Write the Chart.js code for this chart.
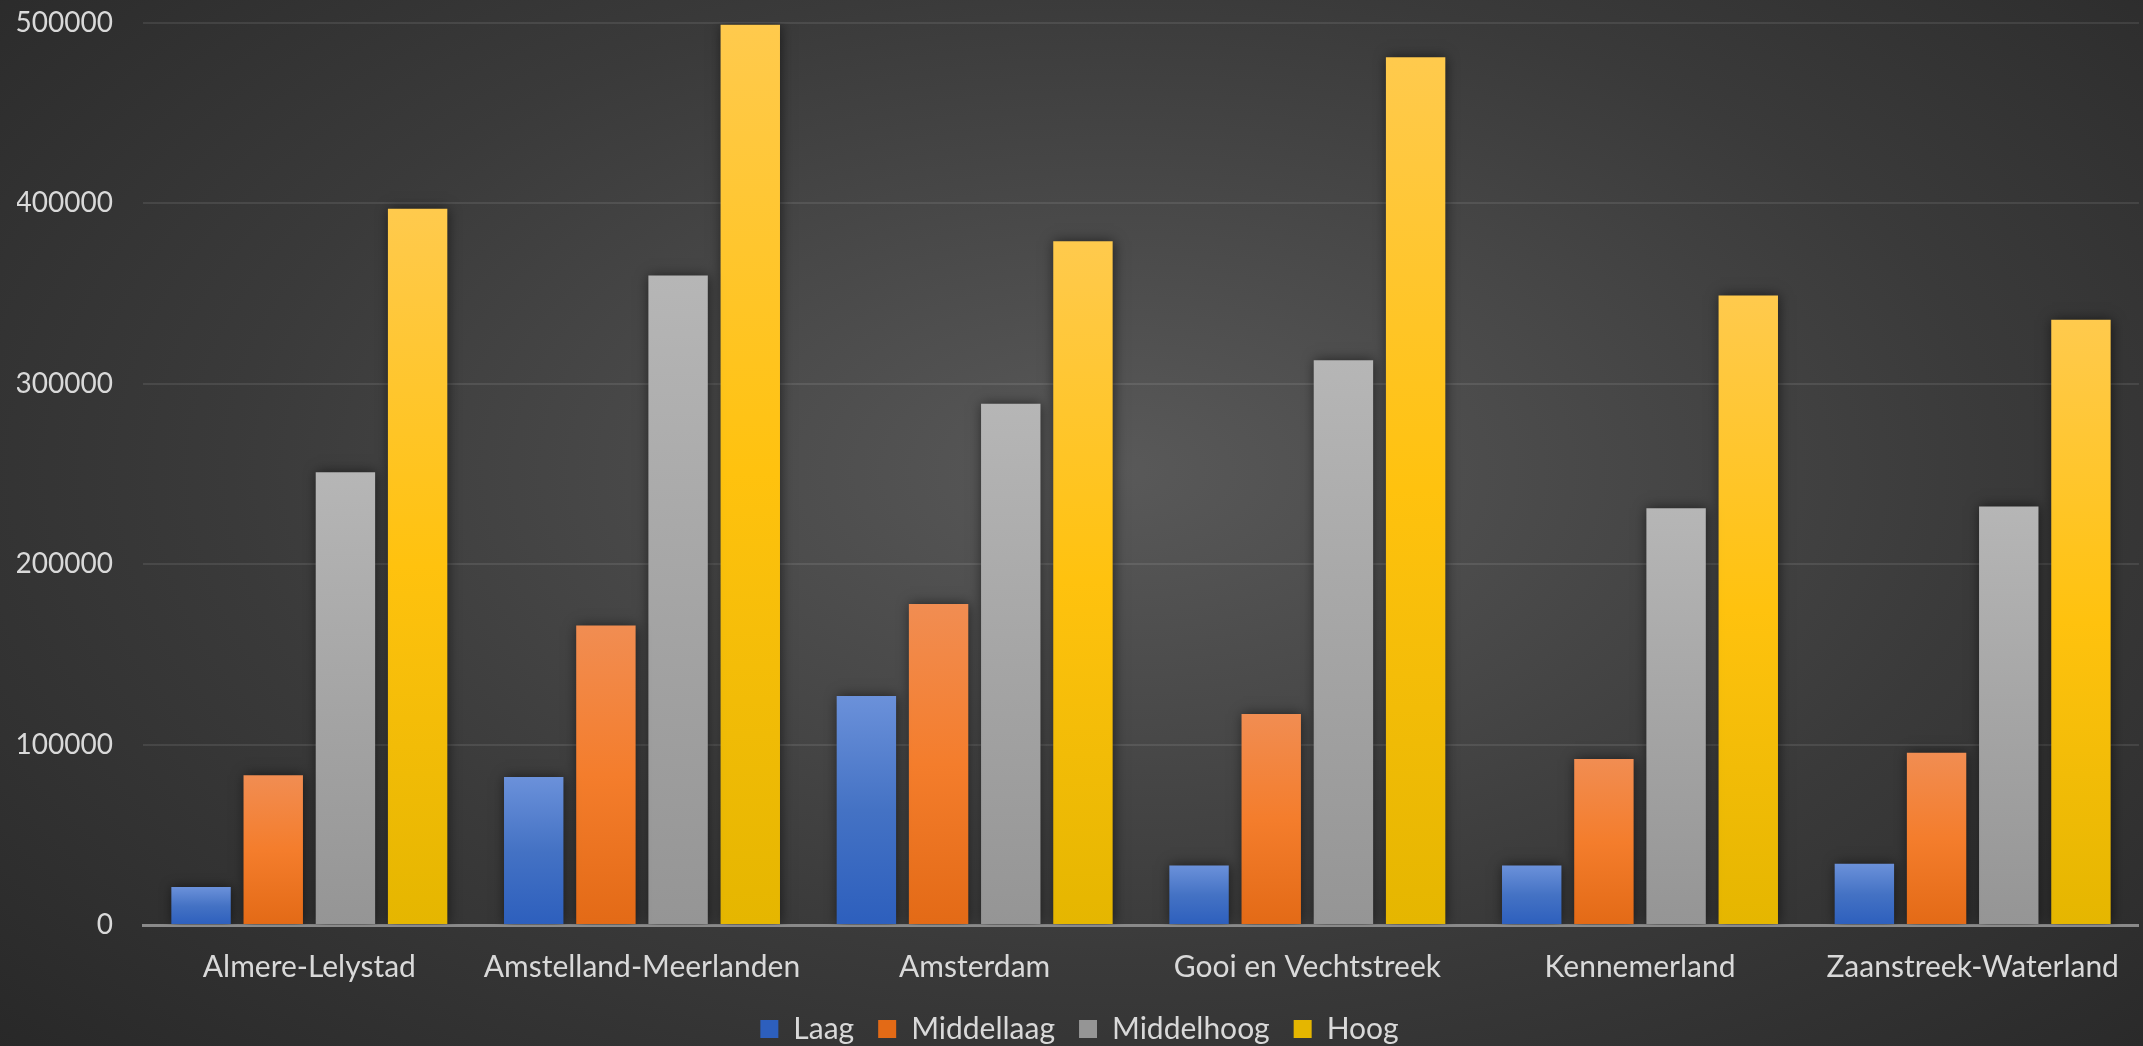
<!DOCTYPE html>
<html>
<head>
<meta charset="utf-8">
<script src="https://cdn.jsdelivr.net/npm/chart.js@4.4.1/dist/chart.umd.min.js"></script>
<style>
    html, body {
        margin: 0;
        padding: 0;
    }
    body {
        width: 2143px;
        height: 1046px;
        overflow: hidden;
        background: radial-gradient(ellipse 75% 85% at 52% 45%, #595959 0%, #3a3a3a 55%, #262626 100%);
    }
    #wrap {
        position: relative;
        width: 2143px;
        height: 1046px;
    }
</style>
</head>
<body>
<div id="wrap"><canvas id="grafico"></canvas></div>
<script>
// regio's
const regios = [
    'Almere-Lelystad',
    'Amstelland-Meerlanden',
    'Amsterdam',
    'Gooi en Vechtstreek',
    'Kennemerland',
    'Zaanstreek-Waterland',
];

const laag = [21000, 82000, 127000, 33000, 33000, 34000];
const middellaag = [83000, 166000, 178000, 117000, 92000, 95500];
const middelhoog = [251000, 360000, 289000, 313000, 231000, 232000];
const hoog = [397000, 499000, 379000, 481000, 349000, 335500];

const yTicks = [0, 100000, 200000, 300000, 400000, 500000];

const tekstKleur = '#d9d9d9';
const lettertype = 'Lato, "Open Sans", sans-serif';

// verloop per staaf: licht boven, donker onder
function verloop(kleuren) {
    return function (ctx) {
        const chart = ctx.chart;
        if (ctx.type !== 'data' || !chart.chartArea || !chart.scales.y) {
            return kleuren[1];
        }
        const y = chart.scales.y;
        const top = y.getPixelForValue(ctx.raw);
        const bodem = y.getPixelForValue(0);
        if (!isFinite(top) || bodem - top < 1) {
            return kleuren[1];
        }
        const g = chart.ctx.createLinearGradient(0, top, 0, bodem);
        g.addColorStop(0, kleuren[0]);
        g.addColorStop(0.5, kleuren[1]);
        g.addColorStop(1, kleuren[2]);
        return g;
    };
}

const schaduw = {
    id: 'schaduw',
    beforeDatasetsDraw(chart) {
        const c = chart.ctx;
        c.save();
        c.shadowColor = 'rgba(0, 0, 0, 0.55)';
        c.shadowBlur = 12;
        c.shadowOffsetX = 1;
        c.shadowOffsetY = 0;
    },
    afterDatasetsDraw(chart) {
        chart.ctx.restore();
    }
};

const data = {
    labels: regios,
    datasets: [
        {
            label: 'Laag',
            data: laag,
            backgroundColor: verloop(['#6b91da', '#4472c4', '#2d5fbd']),
        },
        {
            label: 'Middellaag',
            data: middellaag,
            backgroundColor: verloop(['#f18d52', '#f47d2c', '#e36a16']),
        },
        {
            label: 'Middelhoog',
            data: middelhoog,
            backgroundColor: verloop(['#b6b6b6', '#a5a5a5', '#959595']),
        },
        {
            label: 'Hoog',
            data: hoog,
            backgroundColor: verloop(['#ffca4d', '#ffc20e', '#e5b600']),
        },
    ]
};

const config = {
    type: 'bar',
    data,
    plugins: [schaduw],
    options: {
        responsive: true,
        maintainAspectRatio: false,
        animation: false,
        datasets: {
            bar: {
                categoryPercentage: 0.868,
                barPercentage: 0.823,
                borderWidth: 0,
            }
        },
        layout: {
            padding: { left: 17, right: 1, top: 23, bottom: 0 }
        },
        plugins: {
            tooltip: { enabled: false },
            legend: {
                position: 'bottom',
                maxHeight: 56,
                labels: {
                    color: tekstKleur,
                    font: { family: lettertype, size: 30 },
                    boxWidth: 18,
                    boxHeight: 18,
                    padding: 24,
                }
            }
        },
        scales: {
            x: {
                grid: { display: false, drawTicks: false },
                border: { display: true, color: '#8a8a8a', width: 3 },
                afterFit(scale) {
                    scale.height = 65;
                },
                ticks: {
                    color: tekstKleur,
                    font: { family: lettertype, size: 30 },
                    padding: 24,
                    maxRotation: 0,
                    autoSkip: false,
                }
            },
            y: {
                min: yTicks[0],
                max: yTicks[yTicks.length - 1],
                afterBuildTicks(scale) {
                    scale.ticks = yTicks.map(v => ({ value: v }));
                },
                afterFit(scale) {
                    scale.width = 126;
                    scale.paddingTop = 0;
                    scale.paddingBottom = 0;
                },
                grid: {
                    color: 'rgba(255, 255, 255, 0.09)',
                    lineWidth: 2,
                    drawTicks: false,
                },
                border: { display: false },
                ticks: {
                    color: tekstKleur,
                    font: { family: lettertype, size: 28 },
                    padding: 30,
                    callback: v => String(v),
                }
            }
        }
    }
};

new Chart(document.getElementById('grafico'), config);
</script>
</body>
</html>
